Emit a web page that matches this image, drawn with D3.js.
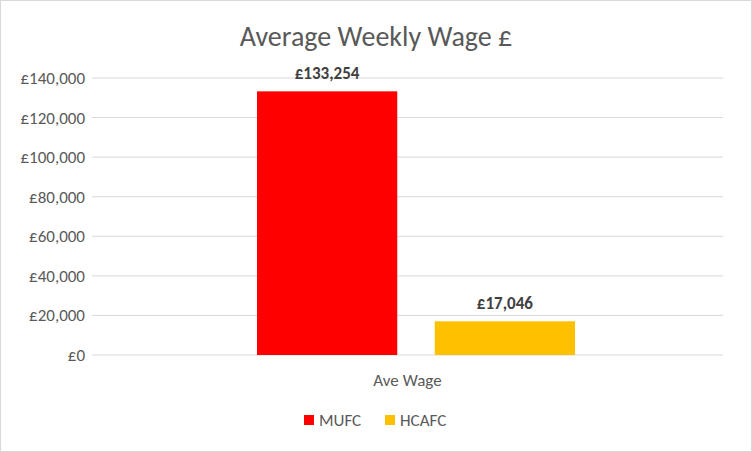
<!DOCTYPE html>
<html>
<head>
<script src="https://d3js.org/d3.v7.min.js"></script>
<style>
body{margin:0;font-family:Calibri,Carlito,"Open Sans",sans-serif;}
</style>
</head>
<body>
<div id="chart"></div>
<script>
var categories = ["Ave Wage"]
var series = ["MUFC","HCAFC"]
var values = [133254,17046]
var colors = ["#FF0000","#FFC000"]
var ticks = [0,20000,40000,60000,80000,100000,120000,140000]

var W = 752, H = 452
var svg = d3.select("#chart").append("svg").attr("width",W).attr("height",H)
svg.append("rect").attr("x",0.5).attr("y",0.5).attr("width",W-1).attr("height",H-1)
    .attr("fill","#fff").attr("stroke","#d9d9d9")

var y = d3.scaleLinear().domain([0,140000]).range([355,78])
var x0 = d3.scaleBand().domain(categories).range([92,723])
var x1 = d3.scaleBand().domain(series).range([238.5,593.5]).paddingInner(0.211).paddingOuter(0.104)
var fmt = function(v){return "£"+d3.format(",")(v)}

svg.selectAll(".grid").data(ticks).enter().append("line")
    .attr("x1",92).attr("x2",723).attr("y1",function(d){return y(d)}).attr("y2",function(d){return y(d)})
    .attr("stroke","#d9d9d9").attr("stroke-width",1)

svg.selectAll(".tick").data(ticks).enter().append("text")
    .attr("x",85).attr("y",function(d){return y(d)+6}).attr("text-anchor","end")
    .attr("font-size",17).attr("fill","#595959").text(fmt)

svg.selectAll(".bar").data(values).enter().append("rect")
    .attr("x",function(d,i){return x1(series[i])}).attr("width",x1.bandwidth())
    .attr("y",function(d){return y(d)}).attr("height",function(d){return y(0)-y(d)})
    .attr("fill",function(d,i){return colors[i]})

svg.selectAll(".lbl").data(values).enter().append("text")
    .attr("x",function(d,i){return x1(series[i])+x1.bandwidth()/2}).attr("y",function(d){return y(d)-12})
    .attr("text-anchor","middle").attr("font-size",17).attr("font-weight","bold").attr("fill","#404040")
    .text(fmt)

svg.append("text").attr("x",x0(categories[0])+x0.bandwidth()/2).attr("y",386)
    .attr("text-anchor","middle").attr("font-size",17).attr("fill","#595959").text(categories[0])

svg.append("text").attr("x",376).attr("y",46).attr("text-anchor","middle")
    .attr("font-size",28).attr("fill","#595959").text("Average Weekly Wage £")

var lx = [304,385]
series.forEach(function(s,i){
    svg.append("rect").attr("x",lx[i]).attr("y",415).attr("width",10).attr("height",10).attr("fill",colors[i])
    svg.append("text").attr("x",lx[i]+15).attr("y",426).attr("font-size",17).attr("fill","#595959").text(s)
})
</script>
</body>
</html>
